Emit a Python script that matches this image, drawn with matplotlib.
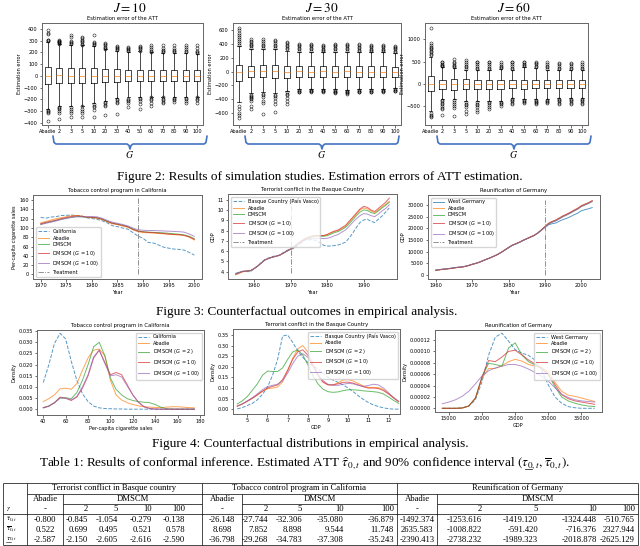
import matplotlib
matplotlib.use("Agg")
import matplotlib.pyplot as plt

W, H = 640, 546
SERIF = 'Liberation Serif'
BRACE = '#4472C4'
C_BLUE, C_ORANGE, C_GREEN, C_RED, C_PURPLE = '#1f77b4', '#ff7f0e', '#2ca02c', '#d62728', '#9467bd'

# ---------------- data: simulation box plots ----------------
box_labels = ['Abadie', '2', '3', '5', '10', '20', '30', '40', '50', '60', '70', '80', '90', '100']

j10_med = [0, 3, 2, 2, 1, 2, 0, 1, 1, 2, 1, 0, 0, 0]
j10_q1 = [-70, -62, -62, -60, -58, -55, -50, -46, -46, -46, -45, -45, -44, -44]
j10_q3 = [72, 68, 68, 66, 63, 60, 55, 50, 50, 52, 50, 48, 48, 48]
j10_wlo = [-285, -255, -260, -255, -230, -215, -190, -185, -185, -180, -180, -180, -180, -180]
j10_whi = [285, 270, 265, 260, 255, 225, 215, 205, 210, 200, 195, 195, 195, 190]
j10_fhi = [[295, 305, 310, 355, 365, 395], [275, 280, 285, 290, 295, 300, 305], [270, 280, 290, 300, 335, 345],
           [265, 275, 285, 300, 310, 320, 330], [260, 270, 280, 290, 345], [230, 240, 250, 260, 270, 280],
           [220, 230, 240, 250, 255], [210, 220, 230, 240, 245], [215, 225, 235, 245, 255],
           [205, 215, 230, 245, 265], [200, 210, 220, 240, 260], [200, 210, 220, 240, 265],
           [200, 210, 225, 245, 265], [195, 205, 215, 240, 260]]
j10_flo = [[-290, -300, -310, -320, -385], [-265, -275, -285, -300, -320, -370], [-265, -280, -300, -320, -355],
           [-260, -280, -300, -320, -355], [-240, -255, -270, -290, -350], [-220, -230, -245, -260, -335],
           [-200, -210, -220, -235, -330], [-195, -205, -215, -235, -265], [-190, -200, -215, -240, -280],
           [-185, -195, -210, -230, -255], [-185, -195, -205, -220, -235], [-190, -200, -210, -225],
           [-190, -200, -215, -230], [-185, -195, -210, -230]]

j30_med = [0, 5, 10, 5, 0, 3, 0, 2, 0, 5, 0, 0, 0, 0]
j30_q1 = [-130, -80, -80, -95, -90, -80, -80, -75, -80, -75, -80, -75, -75, -72]
j30_q3 = [95, 80, 90, 95, 85, 80, 80, 78, 80, 85, 80, 75, 78, 72]
j30_wlo = [-440, -310, -300, -310, -285, -255, -250, -245, -250, -260, -255, -250, -250, -240]
j30_whi = [370, 320, 320, 320, 300, 285, 280, 275, 280, 285, 280, 275, 275, 265]
j30_fhi = [[385, 410, 440, 470, 500, 530, 560, 590, 620], [340, 360, 380, 400, 420, 445, 465],
           [340, 360, 380, 410, 440, 465], [340, 360, 380, 410, 440, 460], [320, 340, 360, 380, 410, 420],
           [300, 320, 340, 360, 380, 395], [300, 320, 340, 360, 380, 390], [290, 310, 330, 350, 370, 380],
           [300, 320, 340, 360, 380, 390], [300, 320, 340, 360, 380, 390], [295, 315, 335, 355, 375, 390],
           [290, 310, 330, 350, 370, 385], [290, 310, 330, 350, 370, 385], [280, 300, 320, 340, 355, 365]]
j30_flo = [[-500, -540, -590, -630, -665], [-330, -345, -360, -380, -400, -430, -500, -540],
           [-320, -340, -360, -420, -450, -610], [-330, -350, -380, -420, -470, -580],
           [-300, -320, -340, -380, -420, -460], [-270, -280, -290, -300], [-265, -275, -285, -295],
           [-265, -275, -285, -295], [-270, -280, -290, -300, -310], [-280, -290, -300, -310, -320],
           [-270, -280, -290, -300], [-270, -280, -290, -300], [-265, -275, -285, -295], [-255, -265, -275, -285]]

j60_med = [0, 0, 0, 0, 0, 0, 0, 0, 0, 0, 0, 0, 0, 0]
j60_q1 = [-150, -115, -130, -120, -110, -110, -105, -100, -105, -100, -100, -100, -100, -100]
j60_q3 = [175, 90, 100, 100, 95, 95, 95, 90, 90, 90, 90, 90, 90, 90]
j60_wlo = [-600, -330, -340, -380, -380, -380, -380, -310, -340, -330, -330, -310, -310, -310]
j60_whi = [600, 370, 350, 310, 320, 320, 330, 310, 370, 360, 310, 310, 310, 310]
j60_fhi = [[650, 680, 710, 740, 770, 800, 830, 870, 910, 1250], [390, 410, 430, 450, 480, 500],
           [370, 400, 430, 460, 500, 550], [330, 370, 410, 450, 490, 530], [330, 360, 400, 440, 480, 500],
           [330, 360, 400, 440, 480, 500], [350, 380, 410, 450, 500], [330, 360, 400, 440, 480, 500],
           [390, 420, 450, 480, 500], [380, 410, 440, 470, 500], [330, 370, 410, 450, 480],
           [330, 360, 400, 440, 470], [330, 360, 400, 440, 470], [330, 360, 400, 440, 480]]
j60_flo = [[-660, -690, -720, -735], [-360, -390, -420, -460, -500, -540, -570, -700],
           [-360, -400, -440, -500, -545, -730], [-400, -440, -480, -520, -600, -680],
           [-400, -440, -480, -520, -580, -620], [-395, -430, -470, -520, -560], [-395, -420, -450, -490],
           [-330, -360, -390, -420, -450], [-360, -385, -410, -430], [-350, -375, -400, -430, -450],
           [-350, -375, -400, -430], [-330, -360, -390, -420, -450], [-330, -360, -390, -420, -450],
           [-330, -360, -390, -420, -450]]

# ---------------- data: counterfactual outcomes ----------------
tob_years = list(range(1970, 2001))
tob_california = [123.0, 121.0, 123.5, 124.4, 126.7, 127.1, 128.0, 126.4, 126.1, 121.9, 120.2, 118.6, 115.4,
                  110.8, 104.8, 102.8, 99.7, 97.5, 90.1, 82.4, 77.8, 68.7, 67.5, 63.4, 58.6, 56.4, 54.5,
                  53.8, 52.3, 47.2, 41.6]
tob_abadie = [111, 114, 117, 120, 122, 124, 126.5, 127, 125.5, 123, 122, 120.5, 118, 113, 109, 107, 104, 101.5,
              96, 92, 90, 89.5, 89, 88, 87.5, 86, 85.5, 85, 84, 80, 74]
tob_dmscm = [108, 111, 113, 116, 119, 121, 123, 124.5, 124, 123, 123, 122, 119, 114.5, 110.5, 108.5, 106, 103,
             98, 93.5, 92, 91, 90.5, 90, 89.5, 88.5, 87.5, 86.5, 85, 82, 77]
tob_g10 = [109, 112, 114.5, 117, 120, 122.5, 124.5, 126, 125, 123.5, 123, 122, 119, 114, 110, 108, 105.5, 102.5,
           97, 93, 91.5, 90.5, 90, 89, 88, 87, 86, 85.5, 84, 81, 75.5]
tob_g100 = [107, 110, 112.5, 115, 118, 120.5, 122.5, 124, 124, 124, 124.5, 124, 121, 116.5, 112.5, 110, 107.5,
            104.5, 100, 96, 95, 94.5, 94.5, 94, 93.5, 93, 92.5, 92, 91, 87, 82]
tob_treat = (1989, 0, 165)

bas_years = list(range(1955, 1998))
bas_basque = [3.85, 3.95, 4.03, 4.02, 4.01, 4.29, 4.57, 4.90, 5.20, 5.34, 5.47, 5.55, 5.62, 5.85, 6.08, 6.17,
              6.28, 6.56, 6.82, 7.11, 7.10, 7.13, 7.03, 6.83, 6.58, 6.50, 6.50, 6.55, 6.60, 6.72, 6.87, 7.27,
              7.75, 8.31, 8.79, 9.03, 9.10, 8.90, 8.78, 9.10, 9.40, 9.80, 10.20]
bas_abadie = [3.70, 3.85, 4.00, 4.05, 4.10, 4.30, 4.55, 4.85, 5.15, 5.30, 5.40, 5.50, 5.60, 5.80, 6.00, 6.20,
              6.45, 6.75, 7.00, 7.20, 7.35, 7.45, 7.50, 7.50, 7.50, 7.60, 7.75, 7.90, 8.00, 8.20, 8.40, 8.80,
              9.20, 9.60, 10.00, 10.20, 10.10, 9.90, 9.75, 10.00, 10.30, 10.55, 10.85]
bas_dmscm = [3.80, 3.95, 4.05, 4.08, 4.10, 4.30, 4.55, 4.85, 5.15, 5.30, 5.42, 5.50, 5.60, 5.80, 6.00, 6.20,
             6.42, 6.70, 6.95, 7.15, 7.30, 7.40, 7.45, 7.45, 7.45, 7.50, 7.65, 7.80, 7.90, 8.10, 8.30, 8.65,
             9.05, 9.45, 9.80, 10.00, 9.95, 9.75, 9.65, 9.90, 10.20, 10.45, 10.75]
bas_g10 = [3.75, 3.90, 4.05, 4.08, 4.12, 4.30, 4.55, 4.85, 5.15, 5.30, 5.42, 5.52, 5.62, 5.82, 6.02, 6.22,
           6.45, 6.75, 7.00, 7.22, 7.38, 7.48, 7.52, 7.52, 7.52, 7.62, 7.80, 7.95, 8.05, 8.28, 8.50, 8.90,
           9.30, 9.70, 10.10, 10.35, 10.25, 10.00, 9.85, 10.15, 10.45, 10.75, 11.15]
bas_g100 = [3.80, 3.95, 4.05, 4.08, 4.10, 4.30, 4.55, 4.85, 5.15, 5.30, 5.42, 5.50, 5.60, 5.80, 6.00, 6.20,
            6.40, 6.65, 6.90, 7.10, 7.20, 7.25, 7.25, 7.25, 7.22, 7.25, 7.35, 7.50, 7.62, 7.85, 8.05, 8.40,
            8.80, 9.15, 9.45, 9.65, 9.60, 9.45, 9.35, 9.60, 9.90, 10.15, 10.50]
bas_treat = (1970, 3.9, 11.0)

ger_years = list(range(1960, 2004))
ger_west = [2100, 2300, 2500, 2650, 2850, 3100, 3300, 3400, 3700, 4100, 4600, 5000, 5500, 6200, 6800, 7400,
            8100, 8800, 9700, 10700, 11700, 12700, 13300, 14000, 14800, 15500, 16200, 16900, 17900, 19200,
            20500, 21500, 22000, 22300, 23100, 23800, 24300, 25000, 25800, 26500, 27500, 28000, 28400, 28900]
ger_abadie = [2000, 2250, 2450, 2600, 2800, 3000, 3250, 3400, 3650, 4050, 4550, 5000, 5500, 6150, 6800, 7400,
              8100, 8850, 9750, 10800, 11800, 12800, 13400, 14100, 14900, 15600, 16300, 17000, 18000, 19300,
              20700, 22100, 22900, 23500, 24400, 25300, 26000, 26800, 27700, 28500, 29600, 30300, 30900, 31800]
ger_dmscm = [2050, 2280, 2470, 2620, 2820, 3050, 3270, 3400, 3680, 4080, 4570, 5000, 5500, 6180, 6800, 7400,
             8100, 8830, 9720, 10750, 11750, 12750, 13350, 14050, 14850, 15550, 16250, 16950, 17950, 19250,
             20600, 21900, 22700, 23300, 24200, 25100, 25800, 26600, 27500, 28300, 29400, 30100, 30700, 31500]
ger_g10 = [2000, 2250, 2450, 2600, 2800, 3000, 3250, 3400, 3650, 4050, 4550, 5000, 5500, 6150, 6800, 7400,
           8100, 8850, 9750, 10800, 11800, 12800, 13400, 14100, 14900, 15600, 16300, 17000, 18000, 19300,
           20750, 22200, 23000, 23600, 24500, 25400, 26100, 26900, 27800, 28600, 29700, 30400, 31000, 31900]
ger_g100 = [2150, 2350, 2550, 2700, 2900, 3150, 3350, 3450, 3750, 4150, 4650, 5050, 5550, 6200, 6800, 7400,
            8100, 8800, 9700, 10700, 11700, 12700, 13300, 14000, 14800, 15500, 16200, 16900, 17900, 19100,
            20400, 21800, 22600, 23200, 24100, 25000, 25700, 26500, 27400, 28200, 29300, 30000, 30700, 31600]
ger_treat = (1990, 0, 32000)

# ---------------- data: counterfactual distributions ----------------
tob_grid = [40, 45, 50, 55, 60, 65, 70, 75, 80, 85, 90, 95, 100, 105, 110, 115, 120, 125, 130, 135, 140, 145,
            150, 155, 160, 165, 170, 175]
tobd_california = [0.0120, 0.0200, 0.0295, 0.0340, 0.0315, 0.0215, 0.0130, 0.0070, 0.0035, 0.0015, 0.0007,
                   0.0004, 0.0003, 0.0002, 0.0002, 0.0001, 0.0001, 0.0001, 0.0001, 0.0001, 0.0001, 0.0001,
                   0.0001, 0.0001, 0.0001, 0.0001, 0.0001, 0.0001]
tobd_abadie = [0.0035, 0.0048, 0.0065, 0.0092, 0.0095, 0.0090, 0.0115, 0.0175, 0.0230, 0.0265, 0.0270, 0.0240,
               0.0130, 0.0065, 0.0042, 0.0030, 0.0022, 0.0016, 0.0012, 0.0010, 0.0009, 0.0008, 0.0010, 0.0012,
               0.0012, 0.0010, 0.0008, 0.0007]
tobd_g2 = [0.0008, 0.0015, 0.0030, 0.0050, 0.0052, 0.0048, 0.0075, 0.0130, 0.0200, 0.0280, 0.0300, 0.0240,
           0.0140, 0.0090, 0.0065, 0.0048, 0.0040, 0.0035, 0.0032, 0.0030, 0.0022, 0.0010, 0.0003, 0.0001,
           0.0001, 0.0001, 0.0001, 0.0001]
tobd_g10 = [0.0008, 0.0015, 0.0030, 0.0055, 0.0050, 0.0040, 0.0055, 0.0095, 0.0150, 0.0230, 0.0265, 0.0210,
            0.0155, 0.0165, 0.0155, 0.0110, 0.0065, 0.0032, 0.0012, 0.0004, 0.0002, 0.0001, 0.0001, 0.0001,
            0.0001, 0.0001, 0.0001, 0.0001]
tobd_g100 = [0.0006, 0.0014, 0.0030, 0.0052, 0.0050, 0.0042, 0.0058, 0.0100, 0.0155, 0.0235, 0.0265, 0.0205,
             0.0150, 0.0155, 0.0145, 0.0105, 0.0065, 0.0032, 0.0012, 0.0004, 0.0001, 0.0001, 0.0001, 0.0001,
             0.0001, 0.0001, 0.0001, 0.0001]

bas_grid = [4.5, 4.75, 5.0, 5.25, 5.5, 5.75, 6.0, 6.25, 6.5, 6.75, 7.0, 7.25, 7.5, 7.75, 8.0, 8.25, 8.5, 8.75,
            9.0, 9.25, 9.5, 9.75, 10.0, 10.25, 10.5, 10.75, 11.0, 11.25, 11.5, 11.75, 12.0, 12.25, 12.5]
basd_basque = [0.002, 0.008, 0.018, 0.028, 0.045, 0.070, 0.105, 0.160, 0.235, 0.345, 0.350, 0.315, 0.275,
               0.245, 0.220, 0.205, 0.190, 0.170, 0.150, 0.138, 0.127, 0.115, 0.100, 0.083, 0.064, 0.047,
               0.032, 0.021, 0.013, 0.007, 0.003, 0.001, 0.001]
basd_abadie = [0.015, 0.025, 0.038, 0.052, 0.068, 0.085, 0.097, 0.100, 0.105, 0.130, 0.180, 0.240, 0.285,
               0.300, 0.270, 0.215, 0.165, 0.130, 0.115, 0.115, 0.125, 0.138, 0.140, 0.133, 0.122, 0.110,
               0.103, 0.103, 0.102, 0.093, 0.075, 0.055, 0.037]
basd_g2 = [0.025, 0.040, 0.060, 0.090, 0.120, 0.160, 0.180, 0.178, 0.178, 0.195, 0.235, 0.270, 0.280, 0.255,
           0.210, 0.160, 0.120, 0.095, 0.083, 0.080, 0.082, 0.088, 0.092, 0.092, 0.090, 0.087, 0.085, 0.083,
           0.080, 0.072, 0.058, 0.042, 0.028]
basd_g10 = [0.015, 0.025, 0.038, 0.052, 0.068, 0.085, 0.100, 0.108, 0.115, 0.140, 0.185, 0.235, 0.270, 0.280,
            0.255, 0.205, 0.160, 0.128, 0.115, 0.115, 0.120, 0.127, 0.128, 0.123, 0.115, 0.106, 0.100, 0.100,
            0.098, 0.088, 0.072, 0.053, 0.036]
basd_g100 = [0.015, 0.025, 0.040, 0.055, 0.073, 0.092, 0.107, 0.113, 0.118, 0.135, 0.170, 0.215, 0.250, 0.262,
             0.245, 0.205, 0.165, 0.135, 0.118, 0.113, 0.113, 0.118, 0.122, 0.120, 0.113, 0.108, 0.112, 0.118,
             0.115, 0.100, 0.078, 0.056, 0.038]

ger_grid = [14000, 15000, 16000, 17000, 18000, 19000, 20000, 21000, 22000, 23000, 24000, 25000, 26000, 27000,
            28000, 29000, 30000, 31000, 32000, 33000, 34000, 35000, 36000, 37000]
gerd_west = [0e-5, 0e-5, 0e-5, 0.05e-5, 0.4e-5, 1.5e-5, 4.7e-5, 9.4e-5, 12.5e-5, 13.2e-5, 11.8e-5, 10.3e-5,
             9.7e-5, 9.3e-5, 8.5e-5, 6.7e-5, 4.1e-5, 2.0e-5, 0.9e-5, 0.3e-5, 0.1e-5, 0e-5, 0e-5, 0e-5]
gerd_abadie = [0e-5, 0e-5, 0e-5, 0.05e-5, 0.4e-5, 1.8e-5, 5.3e-5, 7.0e-5, 7.0e-5, 7.5e-5, 8.2e-5, 8.6e-5,
               8.3e-5, 7.7e-5, 7.4e-5, 7.2e-5, 6.4e-5, 4.6e-5, 3.0e-5, 2.3e-5, 2.1e-5, 1.8e-5, 1.5e-5, 1.2e-5]
gerd_g2 = [0e-5, 0e-5, 0e-5, 0.05e-5, 0.4e-5, 1.8e-5, 5.6e-5, 7.9e-5, 7.7e-5, 7.4e-5, 10.6e-5, 11.5e-5,
           9.4e-5, 8.2e-5, 7.6e-5, 7.0e-5, 5.9e-5, 3.8e-5, 2.0e-5, 1.3e-5, 0.9e-5, 0.6e-5, 0.4e-5, 0.3e-5]
gerd_g10 = [0e-5, 0e-5, 0e-5, 0.05e-5, 0.4e-5, 1.8e-5, 5.5e-5, 8.4e-5, 8.2e-5, 9.0e-5, 10.0e-5, 10.2e-5,
            9.4e-5, 8.5e-5, 7.8e-5, 7.0e-5, 6.0e-5, 4.2e-5, 2.4e-5, 1.7e-5, 1.3e-5, 1.1e-5, 0.9e-5, 0.7e-5]
gerd_g100 = [0.8e-5, 1.1e-5, 1.5e-5, 2.1e-5, 3.0e-5, 4.3e-5, 5.7e-5, 6.6e-5, 7.1e-5, 7.4e-5, 7.7e-5, 7.7e-5,
             7.4e-5, 6.9e-5, 6.3e-5, 5.6e-5, 4.8e-5, 3.6e-5, 2.5e-5, 1.9e-5, 1.5e-5, 1.3e-5, 1.2e-5, 1.1e-5]

# ---------------- data: conformal inference table ----------------
tab_groups = ['Terrorist conflict in Basque country', 'Tobacco control program in California',
              'Reunification of Germany']
tab_gamma = ['-', '2', '5', '10', '100']
tab_hat = [[-0.800, -0.845, -1.054, -0.279, -0.138],
           [-26.148, -27.744, -32.306, -35.080, -36.879],
           [-1492.374, -1253.616, -1419.120, -1324.448, -510.765]]
tab_upper = [[0.522, 0.699, 0.495, 0.521, 0.578],
             [8.698, 7.852, 8.898, 9.544, 11.748],
             [2635.583, -1008.822, -591.420, -716.376, 2327.944]]
tab_lower = [[-2.587, -2.150, -2.605, -2.616, -2.590],
             [-36.798, -29.268, -34.783, -37.308, -35.243],
             [-2390.413, -2738.232, -1989.323, -2018.878, -2625.129]]

plt.rcParams.update({
    'font.family': 'DejaVu Sans',
    'font.size': 3.6,
    'axes.titlesize': 3.8,
    'axes.labelsize': 3.6,
    'axes.linewidth': 0.7,
    'axes.edgecolor': '0.4',
    'xtick.major.size': 1.8, 'ytick.major.size': 1.8,
    'xtick.major.width': 0.4, 'ytick.major.width': 0.4,
    'xtick.major.pad': 1.2, 'ytick.major.pad': 1.2,
    'axes.titlepad': 2.0,
    'axes.labelpad': 1.5,
    'legend.fontsize': 3.6,
    'lines.linewidth': 0.7,
})

fig = plt.figure(figsize=(6.4, 5.46), dpi=100)
ov = fig.add_axes([0, 0, 1, 1])
ov.set_xlim(0, W)
ov.set_ylim(H, 0)
ov.axis('off')
renderer = fig.canvas.get_renderer()


def px_axes(x0, y0, x1, y1):
    return fig.add_axes([x0 / W, 1 - y1 / H, (x1 - x0) / W, (y1 - y0) / H])


def text_width(s, **kw):
    t = ov.text(0, 0, s, **kw)
    w = t.get_window_extent(renderer).width
    t.remove()
    return w


# ---------------- Figure 2: box plots ----------------
def box_panel(rect, med, q1, q3, wlo, whi, fhi, flo, ylim):
    ax = px_axes(*rect)
    stats = []
    for i, lab in enumerate(box_labels):
        stats.append(dict(label=lab, med=med[i], q1=q1[i], q3=q3[i], whislo=wlo[i], whishi=whi[i],
                          fliers=fhi[i] + flo[i]))
    ax.bxp(stats, widths=0.55,
           boxprops=dict(color='black', lw=0.5), whiskerprops=dict(color='black', lw=0.5),
           capprops=dict(color='black', lw=0.5), medianprops=dict(color=C_ORANGE, lw=0.5),
           flierprops=dict(marker='o', markersize=2.2, markerfacecolor='none',
                           markeredgecolor='black', markeredgewidth=0.35))
    ax.set_ylim(*ylim)
    ax.set_title('Estimation error of the ATT')
    ax.set_ylabel('Estimation error')
    return ax


box_panel((42, 23, 203, 125), j10_med, j10_q1, j10_q3, j10_wlo, j10_whi, j10_fhi, j10_flo, (-420, 451))
box_panel((233, 23, 401, 125), j30_med, j30_q1, j30_q3, j30_wlo, j30_whi, j30_fhi, j30_flo, (-768, 697))
box_panel((425, 23, 588, 125), j60_med, j60_q1, j60_q3, j60_wlo, j60_whi, j60_fhi, j60_flo, (-921, 1363))

for xc, xl, xr, jtxt in [(130, 53, 207, r'$J = 10$'), (322, 245, 399, r'$J = 30$'), (514, 437, 591, r'$J = 60$')]:
    ov.text(xc, 12, jtxt, ha='center', va='baseline', fontsize=9.5, math_fontfamily='stix')
    bx = [xl, xl + 1, xl + 3, xc - 3, xc - 1, xc, xc + 1, xc + 3, xr - 3, xr - 1, xr]
    by = [136, 142.5, 144, 144, 145.5, 149, 145.5, 144, 144, 142.5, 136]
    ov.plot(bx, by, color=BRACE, lw=1.2, solid_capstyle='round', solid_joinstyle='round')
    ov.text(xc, 154, r'$G$', ha='center', va='center', fontsize=7, math_fontfamily='stix')


# ---------------- Figure 3: counterfactual outcomes ----------------
def line_panel(rect, years, treated, treated_label, treated_ls, synth, treat, title, ylim, xticks, yticks,
               ylabel, loc):
    ax = px_axes(*rect)
    ax.plot(years, treated, color=C_BLUE, ls=treated_ls, alpha=0.75, label=treated_label)
    for vals, col, lab in zip(synth, [C_ORANGE, C_GREEN, C_RED, C_PURPLE],
                              ['Abadie', 'DMSCM', r'DMSCM ($G$ = 10)', r'DMSCM ($G$ = 100)']):
        ax.plot(years, vals, color=col, alpha=0.7, label=lab)
    ax.vlines(treat[0], treat[1], treat[2], colors='gray', linestyles='-.', lw=0.6, label='Treatment')
    ax.set_xlim(years[0] - 0.05 * (years[-1] - years[0]), years[-1] + 0.05 * (years[-1] - years[0]))
    ax.set_ylim(*ylim)
    ax.set_xticks(xticks)
    ax.set_yticks(yticks)
    ax.set_title(title)
    ax.set_xlabel('Year')
    ax.set_ylabel(ylabel)
    ax.legend(loc=loc, handlelength=2.2, borderpad=0.4, labelspacing=0.3)
    return ax


line_panel((33, 195, 202, 279), tob_years, tob_california, 'California', '--',
           [tob_abadie, tob_dmscm, tob_g10, tob_g100], tob_treat, 'Tobacco control program in California',
           (-10, 171), [1970, 1975, 1980, 1985, 1990, 1995, 2000], [0, 20, 40, 60, 80, 100, 120, 140, 160],
           'Per-capita cigarette sales', 'lower left')
line_panel((228, 194, 397, 279), bas_years, bas_basque, 'Basque Country (País Vasco)', '--',
           [bas_abadie, bas_dmscm, bas_g10, bas_g100], bas_treat, 'Terrorist conflict in the Basque Country',
           (3.3, 11.55), [1960, 1970, 1980, 1990], [4, 5, 6, 7, 8, 9, 10, 11], 'GDP', 'upper left')
line_panel((428, 195, 600, 279), ger_years, ger_west, 'West Germany', '-',
           [ger_abadie, ger_dmscm, ger_g10, ger_g100], ger_treat, 'Reunification of Germany',
           (-1700, 34300), [1960, 1970, 1980, 1990, 2000], [0, 5000, 10000, 15000, 20000, 25000, 30000],
           'GDP', 'upper left')


# ---------------- Figure 4: counterfactual distributions ----------------
def dens_panel(rect, grid, treated, treated_label, synth, title, xlim, ylim, xticks, yticks, xlabel, fmt):
    ax = px_axes(*rect)
    ax.plot(grid, treated, color=C_BLUE, ls='--', alpha=0.75, label=treated_label)
    for vals, col, lab in zip(synth, [C_ORANGE, C_GREEN, C_RED, C_PURPLE],
                              ['Abadie', r'DMSCM ($G$ = 2)', r'DMSCM ($G$ = 10)', r'DMSCM ($G$ = 100)']):
        ax.plot(grid, vals, color=col, alpha=0.7, label=lab)
    ax.set_xlim(*xlim)
    ax.set_ylim(*ylim)
    ax.set_xticks(xticks)
    ax.set_yticks(yticks)
    ax.set_yticklabels([fmt.format(v) for v in yticks])
    ax.set_title(title)
    ax.set_xlabel(xlabel)
    ax.set_ylabel('Density')
    ax.legend(loc='upper right', handlelength=2.2, borderpad=0.4, labelspacing=0.3)
    return ax


dens_panel((37, 330, 204, 415), tob_grid, tobd_california, 'California',
           [tobd_abadie, tobd_g2, tobd_g10, tobd_g100], 'Tobacco control program in California',
           (34.4, 183.6), (-0.0025, 0.0355), [40, 60, 80, 100, 120, 140, 160, 180],
           [0.0, 0.005, 0.010, 0.015, 0.020, 0.025, 0.030, 0.035], 'Per-capita cigarette sales', '{:.3f}')
dens_panel((233, 329, 400, 414), bas_grid, basd_basque, 'Basque Country (País Vasco)',
           [basd_abadie, basd_g2, basd_g10, basd_g100], 'Terrorist conflict in the Basque Country',
           (4.29, 12.57), (-0.022, 0.378), [5, 6, 7, 8, 9, 10, 11, 12],
           [0.0, 0.05, 0.10, 0.15, 0.20, 0.25, 0.30, 0.35], 'GDP', '{:.2f}')
dens_panel((435, 330, 602, 412), ger_grid, gerd_west, 'West Germany',
           [gerd_abadie, gerd_g2, gerd_g10, gerd_g100], 'Reunification of Germany',
           (12900, 38100), (-0.0000065, 0.0001376), [15000, 20000, 25000, 30000, 35000],
           [0.0, 0.00002, 0.00004, 0.00006, 0.00008, 0.00010, 0.00012], 'GDP', '{:.5f}')

# ---------------- captions ----------------
cap = dict(va='baseline', fontsize=9.5, family=SERIF, math_fontfamily='stix')
ov.text(320, 180, 'Figure 2: Results of simulation studies. Estimation errors of ATT estimation.', ha='center', **cap)
ov.text(307, 315, 'Figure 3: Counterfactual outcomes in empirical analysis.', ha='center', **cap)
ov.text(310, 447, 'Figure 4: Counterfactual distributions in empirical analysis.', ha='center', **cap)

cap_pre = r'Table 1: Results of conformal inference. Estimated ATT $\widehat{\tau}_{0,t}$ and 90% confidence interval $($'
cap_rest = r'$\tau_{0,t}, \overline{\tau}_{0,t})$.'
cap_y = 467
w_all = text_width(cap_pre + cap_rest, ha='left', **cap)
cap_x0 = 305 - w_all / 2
w_pre = text_width(cap_pre, ha='left', **cap)
w_tau = text_width(r'$\tau$', ha='left', **cap)
ov.text(cap_x0, cap_y, cap_pre + cap_rest, ha='left', **cap)
ov.plot([cap_x0 + w_pre + 0.5, cap_x0 + w_pre + w_tau], [cap_y + 1.8, cap_y + 1.8], color='black', lw=0.5)

# ---------------- Table 1 ----------------
tb = dict(va='center', fontsize=6.2, family=SERIF, math_fontfamily='stix')
tl = dict(va='center', fontsize=5.4, family=SERIF, math_fontfamily='stix')
lw_t = 0.5
y_top, y_r1, y_l1, y_r2, y_l2, y_r3, y_l3 = 483, 488.5, 493.5, 499, 504, 509, 514
y_rows = [519.5, 529.5, 539.5]
y_bot = 545
x_left, x_lab = 3, 27
grp_right = [202, 397, 638]
grp_left = [27, 202, 397]
abadie_right = [63, 242, 437]
dm_right = [[88, 118, 152, 185], [268, 302, 344, 394], [482, 538, 597, 635]]

ov.hlines([y_top, y_l3, y_bot], x_left, grp_right[-1], colors='black', lw=lw_t)
ov.hlines(y_l1, x_lab, grp_right[-1], colors='black', lw=lw_t)
ov.vlines([x_left, x_lab] + grp_right, y_top, y_bot, colors='black', lw=lw_t)
ov.vlines(abadie_right, y_l1, y_bot, colors='black', lw=lw_t)
for g in range(3):
    ov.hlines(y_l2, abadie_right[g], grp_right[g], colors='black', lw=lw_t)
    ov.text((grp_left[g] + grp_right[g]) / 2, y_r1, tab_groups[g], ha='center', **tb)
    acx = (grp_left[g] + abadie_right[g]) / 2
    ov.text(acx, y_r2, 'Abadie', ha='center', **tb)
    ov.text((abadie_right[g] + grp_right[g]) / 2, y_r2, 'DMSCM', ha='center', **tb)
    ov.text(acx, y_r3, tab_gamma[0], ha='center', **tb)
    for k in range(4):
        ov.text(dm_right[g][k], y_r3, tab_gamma[k + 1], ha='right', **tb)
    for yy, table in zip(y_rows, [tab_hat, tab_upper, tab_lower]):
        vals = table[g]
        ov.text(acx, yy, f'{vals[0]:.3f}', ha='center', **tb)
        for k in range(4):
            ov.text(dm_right[g][k], yy, f'{vals[k + 1]:.3f}', ha='right', **tb)

ov.text(6, y_r3, r'$\gamma$', ha='left', **tl)
for yy, lab in zip(y_rows, [r'$\widehat{\tau}_{0,t}$', r'$\overline{\tau}_{0,t}$', r'$\tau_{0,t}$']):
    ov.text(6, yy, lab, ha='left', **tl)
w_tau_t = text_width(r'$\tau$', ha='left', **tl)
ov.plot([6.3, 6 + w_tau_t], [y_rows[2] + 2.4, y_rows[2] + 2.4], color='black', lw=0.4)

fig.savefig('out.png', dpi=100, facecolor='white')
